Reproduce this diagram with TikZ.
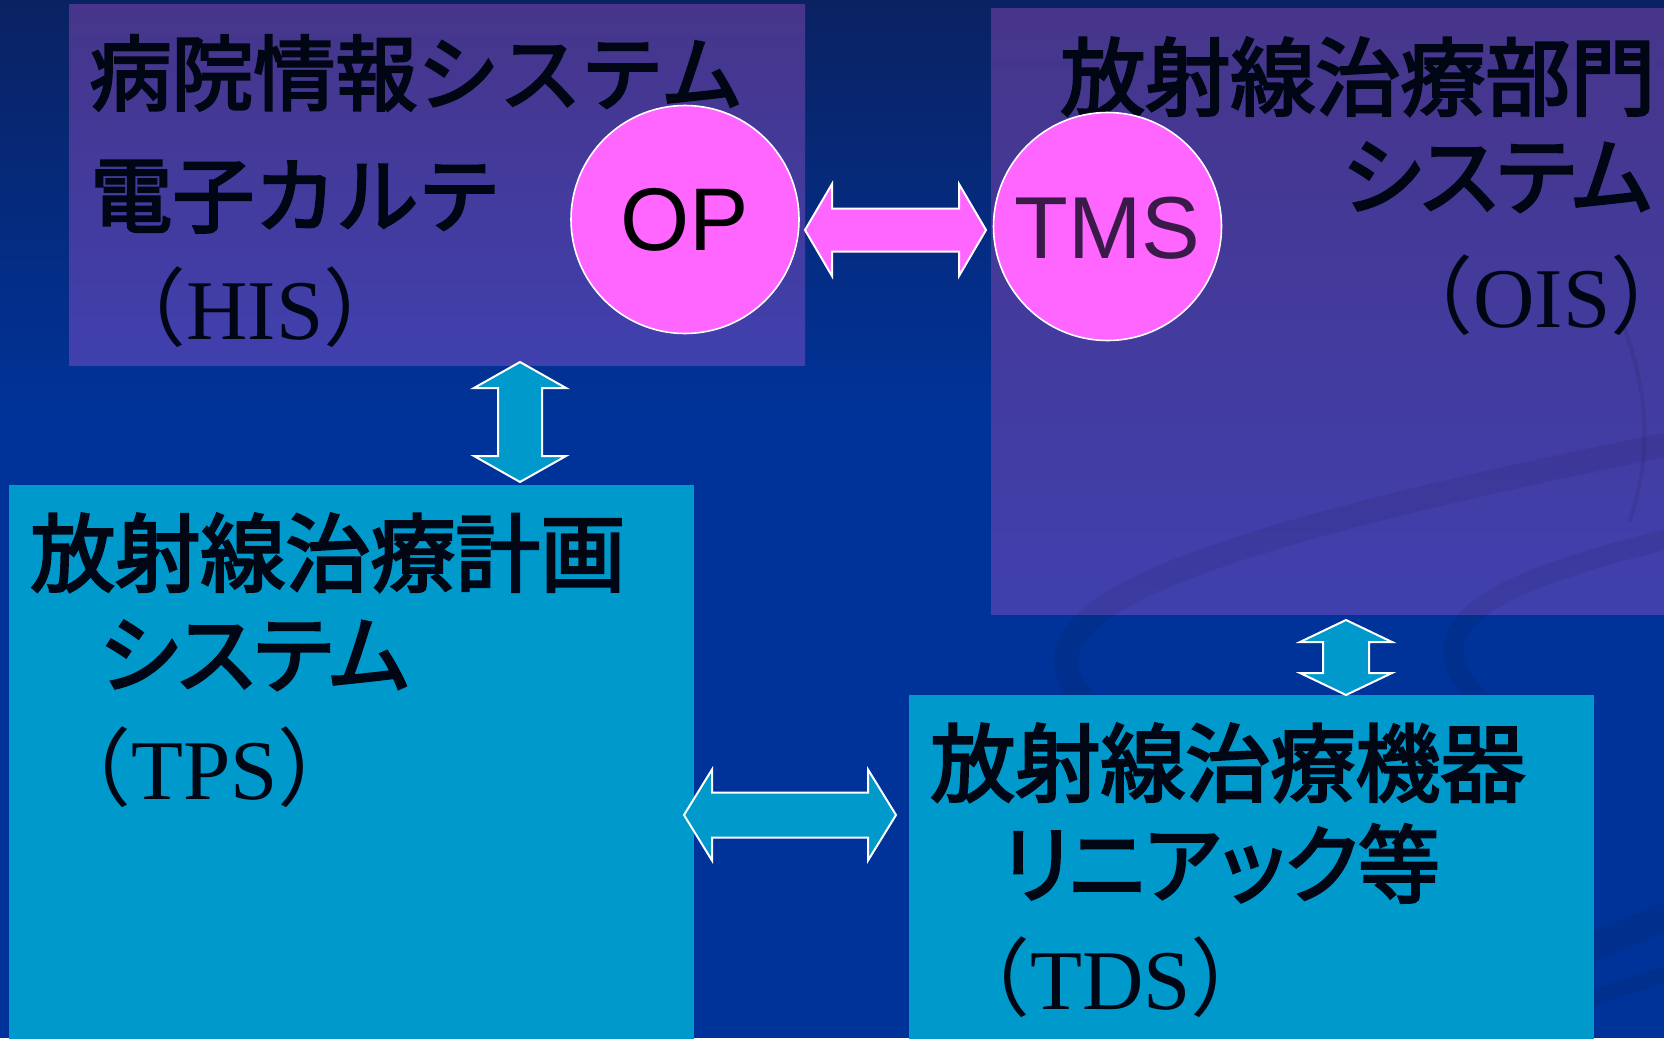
\documentclass[tikz,border=0pt]{standalone}
\usepackage{fontspec}
\setmainfont{Liberation Serif}
\newfontfamily\jp[FakeBold=3]{Noto Sans CJK JP}
\newfontfamily\jpp[FakeBold=3,RawFeature=+palt]{Noto Sans CJK JP}
\newfontfamily\jpn{Noto Sans CJK JP}
\newfontfamily\ars{Liberation Sans}
\definecolor{bgtop}{HTML}{0A2262}
\definecolor{bgblue}{HTML}{003399}
\definecolor{purtop}{HTML}{46358A}
\definecolor{purbot}{HTML}{4040AE}
\definecolor{cyanbox}{HTML}{0099CC}
\definecolor{pinkc}{HTML}{FF66FF}
\definecolor{inkc}{HTML}{000614}
\definecolor{tmsc}{HTML}{3A1A48}
\newcommand\harrow[7]{% x1 x2 y headlen halfshaft halfhead style
  \filldraw[#7] (#1,#3) -- ({#1+#4},{#3-#6}) -- ({#1+#4},{#3-#5}) -- ({#2-#4},{#3-#5}) -- ({#2-#4},{#3-#6})
   -- (#2,#3) -- ({#2-#4},{#3+#6}) -- ({#2-#4},{#3+#5}) -- ({#1+#4},{#3+#5}) -- ({#1+#4},{#3+#6}) -- cycle;}
\newcommand\varrow[7]{% y1 y2 x headlen halfshaft halfhead style
  \filldraw[#7] (#3,#1) -- ({#3-#6},{#1+#4}) -- ({#3-#5},{#1+#4}) -- ({#3-#5},{#2-#4}) -- ({#3-#6},{#2-#4})
   -- (#3,#2) -- ({#3+#6},{#2-#4}) -- ({#3+#5},{#2-#4}) -- ({#3+#5},{#1+#4}) -- ({#3+#6},{#1+#4}) -- cycle;}
\begin{document}
\begin{tikzpicture}[x=0.5pt,y=-0.5pt,
  purplebox/.style={rectangle, inner sep=0, top color=purtop, bottom color=purbot, draw=none},
  cyanrect/.style={rectangle, inner sep=0, fill=cyanbox, draw=none},
  jl/.style={anchor=base west, inner sep=0, text=inkc, font=\jp\fontsize{41pt}{41pt}\selectfont},
  jlb/.style={anchor=base west, inner sep=0, text=inkc, font=\jp\fontsize{42.5pt}{42.5pt}\selectfont},
  jlp/.style={anchor=base west, inner sep=0, text=inkc, font=\jpp\fontsize{42.5pt}{42.5pt}\selectfont},
  pl/.style={anchor=base west, inner sep=0, text=inkc, font=\fontsize{42.5pt}{42.5pt}\selectfont},
  bubble/.style={circle, inner sep=0, minimum size=114pt, fill=pinkc, draw=white, line width=0.8pt},
  pinkarrow/.style={fill=pinkc, draw=white, line width=1pt},
  cyanarrow/.style={fill=cyanbox, draw=white, line width=1pt},
  swirl/.style={draw=black, opacity=0.07, line cap=round}]
\useasboundingbox (0,0) rectangle (1664,1038);
% background
\fill[bgblue] (0,0) rectangle (1664,1038);
\shade[top color=bgtop, bottom color=bgblue] (0,0) rectangle (1664,420);
% upper boxes
\node[purplebox, minimum width=368pt, minimum height=180pt] (his) at (437,185) {};
\node[purplebox, minimum width=339.5pt, minimum height=302.5pt] (ois) at (1330.5,311.5) {};
% faint swirls
\draw[swirl, line width=12pt] (1085,700) .. controls (1000,610) and (1200,540) .. (1664,445);
\draw[swirl, line width=10pt] (1480,700) .. controls (1410,630) and (1480,585) .. (1664,540);
\draw[swirl, line width=2pt] (1625,330) .. controls (1650,400) and (1650,460) .. (1630,520);
\draw[swirl, line width=14pt] (1560,960) .. controls (1600,945) and (1630,930) .. (1664,918);
\draw[swirl, line width=8pt] (1560,1010) .. controls (1600,995) and (1630,985) .. (1664,975);
% lower boxes
\node[cyanrect, minimum width=342.5pt, minimum height=280pt] (tps) at (351.5,765) {};
\node[cyanrect, minimum width=342.5pt, minimum height=175pt] (tds) at (1251.5,870) {};
% texts HIS
\node[jl] (his1) at (89,104) {病院情報システム};
\node[jl] (his2) at (90,226) {電子カルテ};
\node[pl] (his3) at (101,339) {{\jpn （}HIS{\jpn ）}};
% texts OIS
\node[jlb] (ois1) at (1060,109) {放射線治療部門};
\node[jlp, anchor=base east] (ois2) at (1652,208) {システム};
\node[pl] (ois3) at (1388,327) {{\jpn （}OIS{\jpn ）}\hspace{-32pt}};
% texts TPS
\node[jlb] (tps1) at (30,585) {放射線治療計画};
\node[jlp] (tps2) at (99,686) {システム};
\node[pl] (tps3) at (46,799) {{\jpn （}TPS{\jpn ）}};
% texts TDS
\node[jlb] (tds1) at (930,795) {放射線治療機器};
\node[jlp] (tds2) at (1002,896) {\scalebox{0.96}[1]{リニアック等}};
\node[pl] (tds3) at (945,1009) {{\jpn （}TDS{\jpn ）}};
% bubbles
\node[bubble] (op) at (685,219.5) {};
\node[font=\ars\fontsize{44.5pt}{44.5pt}\selectfont, text=black, inner sep=0] (optext) at (op.center) {OP};
\node[bubble] (tms) at (1107.5,226.5) {};
\node[font=\ars\fontsize{44pt}{44pt}\selectfont, text=tmsc, inner sep=0] (tmstext) at ([yshift=-1pt]tms.center) {TMS};
% block arrows
\harrow{805}{986}{230}{27}{21.5}{46}{pinkarrow}
\varrow{362}{482}{520}{26}{22}{46}{cyanarrow}
\harrow{684}{896}{815}{28}{22.5}{45.5}{cyanarrow}
\varrow{620}{695}{1346}{22}{23}{46}{cyanarrow}
\end{tikzpicture}
\end{document}
